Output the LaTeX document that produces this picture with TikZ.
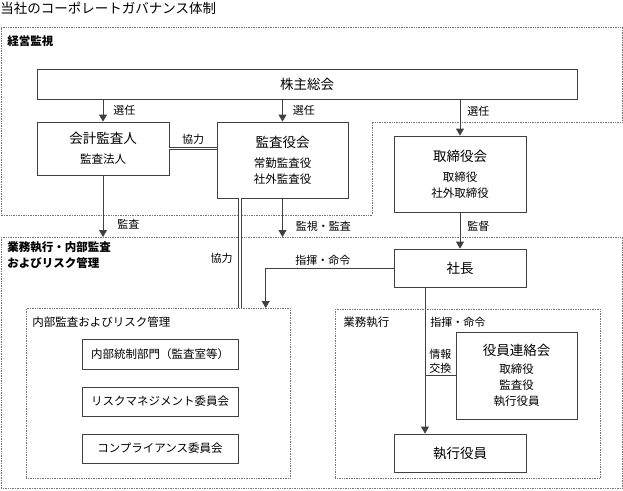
\documentclass[tikz,border=0pt]{standalone}
\usepackage{fontspec}
\setmainfont{Noto Sans CJK JP}
\usetikzlibrary{arrows.meta,positioning}
\newcommand{\bigtxt}{\fontsize{13.5}{16}\selectfont}
\newcommand{\subtxt}{\fontsize{11.5}{16}\selectfont}
\newcommand{\lbltxt}{\fontsize{11}{14}\selectfont}
\begin{document}
\begin{tikzpicture}[x=1pt,y=-1pt,line width=0.8pt,
    box/.style={draw=black!75,fill=white,inner sep=0pt,align=center,font=\subtxt},
    region/.style={draw=black!55,densely dotted,line width=0.7pt,inner sep=0pt},
    arr/.style={draw=black!75,-{Triangle[width=8pt,length=7pt]}},
    dbl/.style={draw=black!75,line width=0.8pt,double=white,double distance=1.8pt},
    lbl/.style={inner sep=2pt,font=\lbltxt},
    rlbl/.style={inner sep=0pt,font=\subtxt\bfseries,align=left}]
    \useasboundingbox (0,0) rectangle (623,490);
    \node[anchor=west,inner sep=0pt,font=\bigtxt] (title) at (0,8) {当社のコーポレートガバナンス体制};
    \draw[region] (1,27) -- (622,27) -- (622,122) -- (372,122) -- (372,215) -- (1,215) -- cycle;
    \node[region,anchor=north west,minimum width=621pt,minimum height=251pt] (exec) at (1,237) {};
    \node[region,anchor=north west,minimum width=264pt,minimum height=170pt] (irm) at (26,308) {};
    \node[region,anchor=north west,minimum width=265pt,minimum height=169pt] (biz) at (335,309) {};
    \node[rlbl,anchor=west] (mon) at (7,41) {経営監視};
    \node[rlbl,anchor=north west] (execlbl) at (7,241) {業務執行・内部監査\\およびリスク管理};
    \node[lbl,anchor=west,inner sep=0pt,font=\subtxt] (irmlbl) at (32,322) {内部監査およびリスク管理};
    \node[lbl,anchor=west,inner sep=0pt,font=\subtxt] (bizlbl) at (343,322) {業務執行};
    \node[box,minimum width=540pt,minimum height=30pt,font=\bigtxt] (agm) at (307,84) {株主総会};
    \node[box,minimum width=132pt,minimum height=53pt] (acct) at (103,148.5) {{\bigtxt 会計監査人}\\[4pt]監査法人};
    \node[box,minimum width=131pt,minimum height=76pt] (board) at (282.5,160) {{\bigtxt 監査役会}\\[4pt]常勤監査役\\社外監査役};
    \node[box,minimum width=132pt,minimum height=76pt] (dirs) at (460,174) {{\bigtxt 取締役会}\\[4pt]取締役\\社外取締役};
    \node[box,minimum width=132pt,minimum height=38pt,font=\bigtxt] (pres) at (460,268) {社長};
    \node[box,minimum width=121pt,minimum height=87pt] (council) at (516.5,375.5) {{\bigtxt 役員連絡会}\\[2pt]取締役\\監査役\\執行役員};
    \node[box,minimum width=132pt,minimum height=38pt,font=\bigtxt] (officers) at (460,453) {執行役員};
    \node[box,minimum width=156pt,minimum height=30pt] (ic) at (160,354) {内部統制部門（監査室等）};
    \node[box,minimum width=156pt,minimum height=29pt] (rm) at (160,401.5) {リスクマネジメント委員会};
    \node[box,minimum width=156pt,minimum height=29pt] (cp) at (160,448.5) {コンプライアンス委員会};
    \draw[arr] (acct.north |- agm.south) -- node[lbl,right=8pt] (sel1) {選任} (acct.north);
    \draw[arr] (board.north |- agm.south) -- node[lbl,right=8pt] (sel2) {選任} (board.north);
    \draw[arr] (dirs.north |- agm.south) -- node[lbl,right=5pt,pos=0.32] (sel3) {選任} (dirs.north);
    \draw[dbl] (acct.east) -- node[lbl,above=2pt] (coop1) {協力} (acct.east -| board.west);
    \draw[arr] (acct.south) -- node[lbl,right=12pt,pos=0.8] (aud) {監査} (acct.south |- exec.north);
    \draw[arr] (board.south) -- node[lbl,right=11pt,pos=0.72] (supv) {監視・監査} (board.south |- exec.north);
    \draw[arr] (dirs.south) -- node[lbl,right=5pt,pos=0.38] (ovs) {監督} (pres.north);
    \draw[dbl] ([xshift=-42.5pt]board.south) -- node[lbl,left=5pt,pos=0.55] (coop2) {協力} ([xshift=-42.5pt]board.south |- irm.north);
    \draw[arr] (pres.west) -| node[lbl,above,pos=0.277] (cmd1) {指揮・命令} ([xshift=-25pt]irm.north east);
    \draw[arr] ([xshift=-35pt]pres.south) -- node[lbl,right=3pt,pos=0.238] (cmd2) {指揮・命令} ([xshift=-35pt]pres.south |- officers.north);
    \coordinate (split) at ([xshift=-35pt]pres.south |- council.west);
    \draw[draw=black!75] (split) -- node[lbl,above,align=left] (info) {情報\\交換} (council.west);
\end{tikzpicture}
\end{document}
